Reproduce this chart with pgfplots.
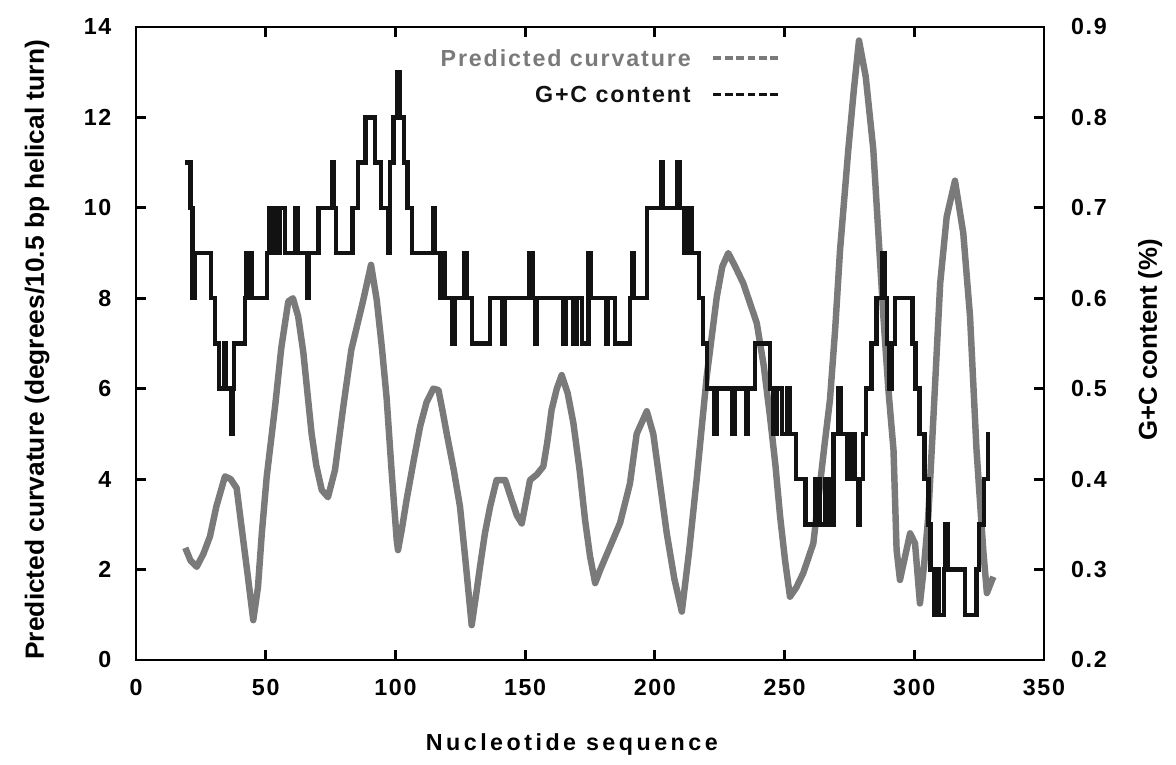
\documentclass[border=0pt]{standalone}
\usepackage{fontspec}
\setmainfont{Liberation Sans}
\usepackage{pgfplots}
\usepackage{pgfplotstable}
\pgfplotsset{compat=1.18}

\definecolor{curvgray}{RGB}{122,122,122}
\definecolor{gcblack}{RGB}{18,18,18}

% predicted curvature (left axis)
\pgfplotstableread{
n val
19 2.48
21 2.2
23.4 2.06
26 2.35
28.5 2.73
31 3.4
34.3 4.06
36.5 4.0
38.8 3.8
41 2.8
43 1.9
45.2 0.88
47 1.6
48.5 2.8
50.4 4.06
53.6 5.6
56 6.9
58.7 7.93
60.5 8.0
62.5 7.6
64.5 6.8
67.7 5.0
69.5 4.3
71.6 3.76
74 3.6
76.7 4.2
79.9 5.6
83 6.86
87.6 7.96
90.6 8.74
92.8 7.96
94.8 6.9
96.6 5.8
98.5 4.2
100.5 2.65
101 2.43
102.5 2.9
104.3 3.54
107 4.4
109.5 5.16
112 5.7
114.6 6.0
116.6 5.97
118.2 5.5
119.8 5.0
122.5 4.2
124.9 3.39
127 2.2
129.4 0.77
131 1.4
132.6 2.06
134.5 2.8
136.5 3.39
139 3.98
142.3 3.98
144.8 3.54
146.8 3.2
148.7 3.02
150.3 3.5
151.9 3.98
154.5 4.1
157 4.28
158.5 4.8
160.2 5.53
162.2 6.0
164.1 6.3
166.4 5.9
168.6 5.24
171 4.2
173.1 3.1
175 2.3
177 1.7
179 2.0
182.7 2.5
186.6 3.03
190.4 3.9
193 5.0
196.9 5.5
199.4 5.0
202 3.9
204.6 2.8
207.5 1.8
210.4 1.07
213.2 2.4
216.1 3.98
220 6.27
223.9 8.04
226 8.7
228.3 9.0
231 8.7
234.1 8.33
239.3 7.45
242 6.5
244.4 5.38
246.5 4.3
248.3 3.17
250.2 2.2
252.1 1.4
254.5 1.6
257.2 1.92
261.1 2.58
263.7 3.9
265.5 4.8
267.5 5.75
269.5 7.3
271.4 9.07
274.6 11.3
276.7 12.6
278.7 13.7
281.3 12.9
284.2 11.3
288.1 7.6
290 6.0
292 4.65
293.2 2.43
294.5 1.77
296.5 2.3
298.4 2.8
300.3 2.58
302.2 1.25
303.8 2.1
305.4 3.17
307.4 5.38
310 8.33
312.5 9.8
315.7 10.6
318.9 9.44
321.5 7.6
324 4.65
326.6 2.43
328 1.48
329.5 1.7
330.5 1.84
}\curvature

% G+C content (right axis), value holds until next n
\pgfplotstableread{
n gc
19 0.75
21 0.70
21.8 0.60
22.6 0.65
29 0.60
30.5 0.55
32 0.50
34 0.55
34.6 0.50
36.5 0.45
37.3 0.50
37.8 0.55
42 0.60
42.6 0.65
44.5 0.60
50.5 0.65
51.3 0.70
52.3 0.65
53 0.70
54 0.65
55.5 0.70
57.4 0.65
61.5 0.70
62.3 0.65
66 0.60
66.8 0.65
70.3 0.70
75.5 0.75
76.4 0.70
77 0.65
83.5 0.70
85.5 0.75
88.5 0.80
92.2 0.75
94.5 0.70
97.2 0.65
97.9 0.75
99.2 0.80
100.5 0.85
101.8 0.80
103.3 0.75
104.6 0.70
106.3 0.65
114.4 0.70
115.2 0.65
117.2 0.60
118.3 0.65
119 0.60
121.8 0.55
122.8 0.60
126.5 0.65
127.6 0.60
129.5 0.55
136.5 0.60
141.3 0.55
142 0.60
151.5 0.65
153 0.60
153.8 0.55
154.6 0.60
164.8 0.55
165.6 0.60
168.5 0.55
170 0.60
172 0.55
174.5 0.65
175.5 0.60
181.2 0.55
181.9 0.60
184.6 0.55
190.5 0.60
191.3 0.65
192 0.60
197 0.70
202.4 0.75
203 0.70
208.8 0.75
209.5 0.70
211.5 0.65
213.3 0.70
214.2 0.65
217 0.60
218.5 0.55
220 0.50
223 0.45
223.7 0.50
230 0.45
230.7 0.50
235.1 0.45
235.8 0.50
238.5 0.55
244.4 0.50
245.5 0.45
247 0.50
249 0.45
251 0.50
252 0.45
254.5 0.40
258 0.35
262 0.40
263.5 0.35
265.5 0.40
267 0.35
268.8 0.45
270.8 0.50
271.5 0.45
274 0.40
275 0.45
277 0.40
278.3 0.35
279 0.40
280.3 0.45
281.5 0.50
283.5 0.55
285.5 0.60
287.8 0.65
288.6 0.60
289.5 0.55
290.5 0.50
291.3 0.55
292.5 0.60
299.3 0.55
300.5 0.50
302 0.45
304 0.40
305.5 0.35
306.2 0.30
307.5 0.25
308.5 0.30
309.5 0.25
311.5 0.30
312 0.35
312.8 0.30
319.5 0.25
324 0.30
325 0.35
327 0.40
328.5 0.45
329.3 0.45
}\gccontent

\begin{document}
\begin{tikzpicture}
\pgfplotsset{
  every axis/.append style={
    scale only axis,
    width=12.35cm, height=8.61cm,
    axis line style={line width=1.1pt},
    tick style={line width=1.1pt, black},
    major tick length=0.13cm,
    tick align=inside,
    ticklabel style={font=\bfseries\fontsize{9}{11}\selectfont\addfontfeature{LetterSpace=7}},
    /pgf/number format/assume math mode=true,
  },
}
\begin{axis}[
  name=main,
  xmin=0, xmax=350, ymin=0, ymax=14,
  xtick={0,50,...,350},
  ytick={0,2,...,14},
  ytick pos=left,
  xticklabel style={yshift=-4pt},
  yticklabel style={xshift=-6pt},
  xlabel={Nucleotide sequence},
  xlabel style={font=\bfseries\fontsize{9}{11}\selectfont\addfontfeature{LetterSpace=15}, at={(axis description cs:0.480,-0.134)}, anchor=center},
  ylabel={Predicted curvature (degrees/10.5 bp helical turn)},
  ylabel style={font=\bfseries\fontsize{10.2}{12}\selectfont, at={(axis description cs:-0.109,0.49)}, anchor=center},
  clip=false,
]
\addplot[curvgray, line width=2.5pt, line join=round] table[x=n, y=val] {\curvature};

% legend text
\node[anchor=east, text=curvgray, font=\bfseries\fontsize{9}{11}\selectfont\addfontfeature{LetterSpace=8}]
  at (rel axis cs:0.621,0.951) {Predicted curvature};
\node[anchor=east, text=gcblack, font=\bfseries\fontsize{9}{11}\selectfont\addfontfeature{LetterSpace=8}]
  at (rel axis cs:0.621,0.893) {G+C content};
\draw[curvgray, line width=1.3pt, dash pattern=on 3pt off 1.4pt] (rel axis cs:0.636,0.951) -- (rel axis cs:0.709,0.951);
\draw[gcblack, line width=1.3pt, dash pattern=on 3pt off 1.4pt] (rel axis cs:0.636,0.893) -- (rel axis cs:0.709,0.893);
\end{axis}

\begin{axis}[
  xmin=0, xmax=350, ymin=0.2, ymax=0.9,
  axis y line*=right,
  axis x line=none,
  ytick={0.2,0.3,...,0.9},
  yticklabel style={/pgf/number format/.cd, fixed, fixed zerofill, precision=1, /tikz/.cd, xshift=7pt},
  ylabel={G+C content (\%)},
  ylabel style={font=\bfseries\fontsize{10}{12}\selectfont, at={(axis description cs:1.117,0.506)}, anchor=center},
]
\addplot[gcblack, line width=1.7pt, const plot, line join=miter] table[x=n, y=gc] {\gccontent};
\end{axis}

\path ([shift={(-1.850cm,-1.306cm)}]main.south west) rectangle ([shift={(1.796cm,0.367cm)}]main.north east);
\end{tikzpicture}
\end{document}
